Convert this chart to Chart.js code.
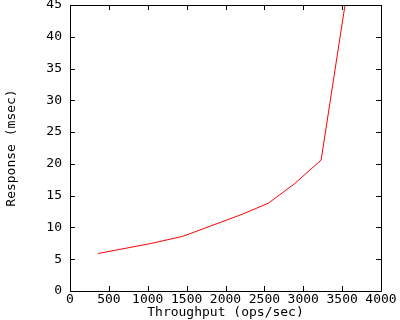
<!DOCTYPE html>
<html>
<head>
<meta charset="utf-8">
<script src="https://cdn.jsdelivr.net/npm/chart.js@4"></script>
<style>
  html, body { margin: 0; padding: 0; background: #fff; }
  #wrap { width: 400px; height: 320px; }
</style>
</head>
<body>
<div id="wrap"><canvas id="chart" width="400" height="320"></canvas></div>
<script>
"use strict";

// ── Data ─────────────────────────────────────────────────────────────────────
const throughput = [360, 1050, 1450, 2200, 2550, 2880, 3230, 3600];
const response   = [5.9, 7.5, 8.6, 12.0, 13.8, 16.8, 20.6, 50];
const xTicks     = [0, 500, 1000, 1500, 2000, 2500, 3000, 3500, 4000];
const yTicks     = [0, 5, 10, 15, 20, 25, 30, 35, 40, 45];

const FONT = "'DejaVu Sans Mono', monospace";

// ── gnuplot style frame with inward ticks on all four sides ──────────────────
const framePlugin = {
  id: "frame",
  afterDraw(chart) {
    const { ctx, chartArea: a, scales } = chart;
    const len = 5;
    ctx.save();
    ctx.strokeStyle = "#000";
    ctx.lineWidth = 1;
    ctx.beginPath();
    ctx.rect(Math.round(a.left) + 0.5, Math.round(a.top) + 0.5,
             Math.round(a.right - a.left), Math.round(a.bottom - a.top));
    for (const v of xTicks) {
      const px = Math.round(scales.x.getPixelForValue(v)) + 0.5;
      ctx.moveTo(px, a.bottom); ctx.lineTo(px, a.bottom - len);
      ctx.moveTo(px, a.top);    ctx.lineTo(px, a.top + len);
    }
    for (const v of yTicks) {
      const py = Math.round(scales.y.getPixelForValue(v)) + 0.5;
      ctx.moveTo(a.left, py);  ctx.lineTo(a.left + len, py);
      ctx.moveTo(a.right, py); ctx.lineTo(a.right - len, py);
    }
    ctx.stroke();
    ctx.restore();
  },
};

new Chart(document.getElementById("chart"), {
  type: "line",
  data: {
    datasets: [{
      data: throughput.map((x, i) => ({ x, y: response[i] })),
      borderColor: "#ff0000",
      borderWidth: 1,
      pointRadius: 0,
      tension: 0,
      fill: false,
      clip: 0,
    }],
  },
  options: {
    responsive: false,
    animation: false,
    events: [],
    layout: { padding: { top: 5, right: 19, left: 0, bottom: 0 } },
    plugins: { legend: { display: false }, tooltip: { enabled: false } },
    scales: {
      x: {
        type: "linear",
        min: 0, max: 4000,
        afterBuildTicks: s => { s.ticks = xTicks.map(value => ({ value })); },
        afterFit: s => { s.height = 29; s.paddingLeft = 0; s.paddingRight = 0; },
        grid: { display: false, drawTicks: false },
        border: { display: false },
        ticks: { color: "#000", padding: 1, maxRotation: 0, autoSkip: false,
                 callback: v => String(v),
                 font: { family: FONT, size: 13 } },
        title: { display: true, text: "Throughput (ops/sec)", color: "#000",
                 padding: { top: 0, bottom: 0 }, font: { family: FONT, size: 13 } },
      },
      y: {
        type: "linear",
        min: 0, max: 45,
        afterBuildTicks: s => { s.ticks = yTicks.map(value => ({ value })); },
        afterFit: s => { s.width = 70; s.paddingTop = 0; s.paddingBottom = 0; },
        grid: { display: false, drawTicks: false },
        border: { display: false },
        ticks: { color: "#000", padding: 8, autoSkip: false,
                 callback: v => String(v),
                 font: { family: FONT, size: 13 } },
        title: { display: true, text: "Response (msec)", color: "#000",
                 padding: { top: 4, bottom: 0 }, font: { family: FONT, size: 13 } },
      },
    },
  },
  plugins: [framePlugin],
});
</script>
</body>
</html>
